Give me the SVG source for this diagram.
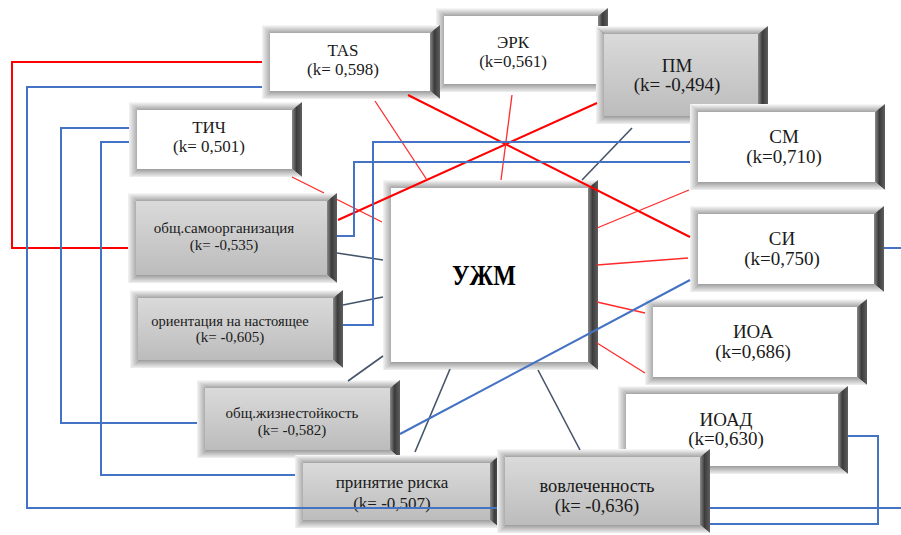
<svg xmlns="http://www.w3.org/2000/svg" width="901" height="535" viewBox="0 0 901 535" font-family="'Liberation Serif', 'DejaVu Serif', serif">
  <defs>
    <linearGradient id="gTop" x1="0" y1="0" x2="0" y2="1">
      <stop offset="0" stop-color="#fbfbfb"/>
      <stop offset="1" stop-color="#a4a4a4"/>
    </linearGradient>
    <linearGradient id="gLeft" x1="0" y1="0" x2="1" y2="0">
      <stop offset="0" stop-color="#f4f4f4"/>
      <stop offset="1" stop-color="#acacac"/>
    </linearGradient>
    <linearGradient id="gRight" x1="0" y1="0" x2="1" y2="0">
      <stop offset="0" stop-color="#8a8a8a"/>
      <stop offset="0.45" stop-color="#3c3c3c"/>
      <stop offset="1" stop-color="#5e5e5e"/>
    </linearGradient>
    <linearGradient id="gBottom" x1="0" y1="0" x2="0" y2="1">
      <stop offset="0" stop-color="#9c9c9c"/>
      <stop offset="1" stop-color="#f0f0f0"/>
    </linearGradient>
    <linearGradient id="gGray" x1="0" y1="0" x2="0" y2="1">
      <stop offset="0" stop-color="#dadada"/>
      <stop offset="1" stop-color="#bcbcbc"/>
    </linearGradient>
  </defs>
  <style>
    .t{fill:url(#gTop)}
    .l{fill:url(#gLeft)}
    .r{fill:url(#gRight)}
    .b{fill:url(#gBottom)}
    .w{fill:#ffffff}
    .g{fill:url(#gGray)}
    text{font-family:'Liberation Serif','DejaVu Serif',serif;fill:#1a1a1a;text-anchor:middle}
    .s15{font-size:15px}
    .s145{font-size:14.5px}
    .s17{font-size:17px}
    .s185{font-size:18.5px}
    .s19{font-size:19px}
    .main{font-size:29px;font-weight:bold;fill:#000}
    .red{stroke:#ff0000;stroke-width:2;fill:none}
    .redThin{stroke:#ff2a2a;stroke-width:1.3;fill:none}
    .blue{stroke:#4472c4;stroke-width:2;fill:none}
    .navy{stroke:#44546a;stroke-width:1.6;fill:none}
  </style>
  <rect width="901" height="535" fill="#ffffff"/>

  <g id="node-erk">
    <polygon class="t" points="436,8 608,8 598,16 444,16"/>
    <polygon class="l" points="436,8 444,16 444,84 436,92"/>
    <polygon class="r" points="608,8 608,92 598,84 598,16"/>
    <polygon class="b" points="436,92 608,92 598,84 444,84"/>
    <rect class="w" x="444" y="16" width="154" height="68"/>
    <text class="s17" x="513" y="48">ЭРК</text>
    <text class="s17" x="513" y="67">(k=0,561)</text>
  </g>

  <g id="node-tas">
    <polygon class="t" points="262,25 440,25 430,33 270,33"/>
    <polygon class="l" points="262,25 270,33 270,91 262,99"/>
    <polygon class="r" points="440,25 440,99 430,91 430,33"/>
    <polygon class="b" points="262,99 440,99 430,91 270,91"/>
    <rect class="w" x="270" y="33" width="160" height="58"/>
    <text class="s17" x="343" y="56">TAS</text>
    <text class="s17" x="343" y="75">(k= 0,598)</text>
  </g>

  <g id="node-pm">
    <polygon class="t" points="596,26 768,26 758,34 604,34"/>
    <polygon class="l" points="596,26 604,34 604,116 596,124"/>
    <polygon class="r" points="768,26 768,124 758,116 758,34"/>
    <polygon class="b" points="596,124 768,124 758,116 604,116"/>
    <rect class="g" x="604" y="34" width="154" height="82"/>
    <text class="s19" x="677" y="72">ПМ</text>
    <text class="s19" x="677" y="91">(k= -0,494)</text>
  </g>

  <g id="node-sm">
    <polygon class="t" points="690,104 885,104 875,112 698,112"/>
    <polygon class="l" points="690,104 698,112 698,182 690,190"/>
    <polygon class="r" points="885,104 885,190 875,182 875,112"/>
    <polygon class="b" points="690,190 885,190 875,182 698,182"/>
    <rect class="w" x="698" y="112" width="177" height="70"/>
    <text class="s19" x="784" y="143">СМ</text>
    <text class="s19" x="784" y="163">(k=0,710)</text>
  </g>

  <g id="node-si">
    <polygon class="t" points="690,206 884,206 874,214 698,214"/>
    <polygon class="l" points="690,206 698,214 698,284 690,292"/>
    <polygon class="r" points="884,206 884,292 874,284 874,214"/>
    <polygon class="b" points="690,292 884,292 874,284 698,284"/>
    <rect class="w" x="698" y="214" width="176" height="70"/>
    <text class="s19" x="782" y="245">СИ</text>
    <text class="s19" x="782" y="265">(k=0,750)</text>
  </g>

  <g id="node-ioa">
    <polygon class="t" points="645,299 867,299 857,307 653,307"/>
    <polygon class="l" points="645,299 653,307 653,377 645,385"/>
    <polygon class="r" points="867,299 867,385 857,377 857,307"/>
    <polygon class="b" points="645,385 867,385 857,377 653,377"/>
    <rect class="w" x="653" y="307" width="204" height="70"/>
    <text class="s19" x="753" y="338">ИОА</text>
    <text class="s19" x="753" y="358">(k=0,686)</text>
  </g>

  <g id="node-ioad">
    <polygon class="t" points="618,386 848,386 838,394 626,394"/>
    <polygon class="l" points="618,386 626,394 626,466 618,474"/>
    <polygon class="r" points="848,386 848,474 838,466 838,394"/>
    <polygon class="b" points="618,474 848,474 838,466 626,466"/>
    <rect class="w" x="626" y="394" width="212" height="72"/>
    <text class="s19" x="726" y="426">ИОАД</text>
    <text class="s19" x="726" y="445">(k=0,630)</text>
  </g>

  <g id="node-tich">
    <polygon class="t" points="129,102 302,102 292,110 137,110"/>
    <polygon class="l" points="129,102 137,110 137,169 129,177"/>
    <polygon class="r" points="302,102 302,177 292,169 292,110"/>
    <polygon class="b" points="129,177 302,177 292,169 137,169"/>
    <rect class="w" x="137" y="110" width="155" height="59"/>
    <text class="s17" x="209" y="133">ТИЧ</text>
    <text class="s17" x="209" y="152">(k= 0,501)</text>
  </g>

  <g id="node-self-org">
    <polygon class="t" points="128,193 337,193 327,201 136,201"/>
    <polygon class="l" points="128,193 136,201 136,275 128,283"/>
    <polygon class="r" points="337,193 337,283 327,275 327,201"/>
    <polygon class="b" points="128,283 337,283 327,275 136,275"/>
    <rect class="g" x="136" y="201" width="191" height="74"/>
    <text class="s15" x="224" y="233">общ.самоорганизация</text>
    <text class="s15" x="224" y="250">(k= -0,535)</text>
  </g>

  <g id="node-present">
    <polygon class="t" points="130,290 343,290 333,298 138,298"/>
    <polygon class="l" points="130,290 138,298 138,360 130,368"/>
    <polygon class="r" points="343,290 343,368 333,360 333,298"/>
    <polygon class="b" points="130,368 343,368 333,360 138,360"/>
    <rect class="g" x="138" y="298" width="195" height="62"/>
    <text class="s145" x="230" y="326">ориентация на настоящее</text>
    <text class="s15" x="230" y="342">(k= -0,605)</text>
  </g>

  <g id="node-hardiness">
    <polygon class="t" points="197,380 400,380 390,388 205,388"/>
    <polygon class="l" points="197,380 205,388 205,450 197,458"/>
    <polygon class="r" points="400,380 400,458 390,450 390,388"/>
    <polygon class="b" points="197,458 400,458 390,450 205,450"/>
    <rect class="g" x="205" y="388" width="185" height="62"/>
    <text class="s15" x="292" y="418">общ.жизнестойкость</text>
    <text class="s15" x="292" y="435">(k= -0,582)</text>
  </g>

  <g id="node-risk">
    <polygon class="t" points="295,455 500,455 490,463 303,463"/>
    <polygon class="l" points="295,455 303,463 303,520 295,528"/>
    <polygon class="r" points="500,455 500,528 490,520 490,463"/>
    <polygon class="b" points="295,528 500,528 490,520 303,520"/>
    <rect class="g" x="303" y="463" width="187" height="57"/>
    <text class="s17" x="392" y="488">принятие риска</text>
    <text class="s17" x="392" y="509">(k= -0,507)</text>
  </g>

  <g id="node-involvement">
    <polygon class="t" points="497,449 710,449 700,457 505,457"/>
    <polygon class="l" points="497,449 505,457 505,525 497,533"/>
    <polygon class="r" points="710,449 710,533 700,525 700,457"/>
    <polygon class="b" points="497,533 710,533 700,525 505,525"/>
    <rect class="g" x="505" y="457" width="195" height="68"/>
    <text class="s185" x="597" y="492">вовлеченность</text>
    <text class="s185" x="597" y="512">(k= -0,636)</text>
  </g>

  <g id="node-uzhm">
    <polygon class="t" points="383,180 598,180 588,188 391,188"/>
    <polygon class="l" points="383,180 391,188 391,362 383,370"/>
    <polygon class="r" points="598,180 598,370 588,362 588,188"/>
    <polygon class="b" points="383,370 598,370 588,362 391,362"/>
    <rect class="w" x="391" y="188" width="197" height="174"/>
    <text class="main" x="484" y="285" textLength="64" lengthAdjust="spacingAndGlyphs">УЖМ</text>
  </g>

  <g id="connectors">
    <!-- positive links, thick red -->
    <polyline class="red" points="262,62 12,62 12,248 128,248"/>
    <line class="red" x1="408" y1="95" x2="690" y2="237"/>
    <line class="red" x1="597" y1="103" x2="338" y2="220"/>
    <!-- thin red links into УЖМ -->
    <line class="redThin" x1="375" y1="101" x2="427" y2="180"/>
    <line class="redThin" x1="512" y1="95" x2="501" y2="180"/>
    <path class="redThin" d="M292,177 L324,193 M337,199.5 L382,222"/>
    <line class="redThin" x1="597" y1="228" x2="689" y2="190"/>
    <line class="redThin" x1="597" y1="265" x2="688" y2="258"/>
    <line class="redThin" x1="597" y1="302" x2="645" y2="313"/>
    <line class="redThin" x1="597" y1="343" x2="645" y2="373"/>
    <!-- negative links, dark slate -->
    <line class="navy" x1="632" y1="128" x2="582" y2="180"/>
    <line class="navy" x1="337" y1="253" x2="383" y2="260"/>
    <line class="navy" x1="343" y1="305" x2="383" y2="297"/>
    <line class="navy" x1="348" y1="381" x2="383" y2="356"/>
    <line class="navy" x1="415" y1="452" x2="450" y2="369"/>
    <line class="navy" x1="580" y1="450" x2="538" y2="370"/>
    <!-- blue links -->
    <path class="blue" d="M262,87 L27,87 L27,508 L497,508 M710,508 L901,508"/>
    <polyline class="blue" points="129,128 61,128 61,423 197,423"/>
    <polyline class="blue" points="129,142 101,142 101,475 295,475"/>
    <polyline class="blue" points="690,142 373,142 373,325 343,325"/>
    <polyline class="blue" points="690,162 354,162 354,236 337,236"/>
    <line class="blue" x1="690" y1="280" x2="400" y2="434"/>
    <line class="blue" x1="884" y1="248" x2="901" y2="248"/>
    <polyline class="blue" points="848,436 878,436 878,524 710,524"/>
  </g>
</svg>
